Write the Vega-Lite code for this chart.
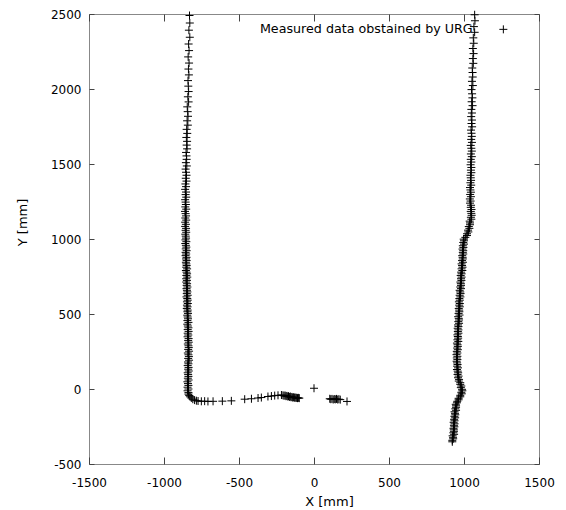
{
  "$schema": "https://vega.github.io/schema/vega-lite/v6.json",
  "width": 450,
  "height": 450,
  "autosize": {"type": "none"},
  "padding": {"left": 89, "top": 14, "right": 27, "bottom": 46},
  "background": "white",
  "config": {
    "font": "DejaVu Sans",
    "view": {"stroke": "#888888", "strokeWidth": 1},
    "axis": {
      "grid": false,
      "domain": false,
      "tickColor": "#444444",
      "labelColor": "black",
      "labelFont": "DejaVu Sans",
      "labelFontSize": 12,
      "labelFlush": false,
      "labelOverlap": false,
      "labelExpr": "'' + datum.value",
      "titleFont": "DejaVu Sans",
      "titleFontSize": 13,
      "titleFontWeight": "normal",
      "titleColor": "black"
    },
    "legend": {
      "orient": "none",
      "legendX": 408,
      "legendY": 9,
      "padding": 0,
      "labelAlign": "right",
      "labelOffset": -37,
      "labelLimit": 0,
      "labelFont": "DejaVu Sans",
      "labelFontSize": 12.7,
      "labelColor": "black",
      "symbolSize": 64,
      "symbolStrokeWidth": 1,
      "symbolStrokeColor": "black",
      "title": null
    }
  },
  "data": {
    "values": [
      {"x": -830, "y": 2490}, {"x": -828, "y": 2440}, {"x": -834, "y": 2392}, {"x": -828, "y": 2345},
      {"x": -836, "y": 2300}, {"x": -833, "y": 2256}, {"x": -839, "y": 2214}, {"x": -833, "y": 2173},
      {"x": -837, "y": 2133}, {"x": -834, "y": 2094}, {"x": -840, "y": 2056}, {"x": -838, "y": 2019},
      {"x": -836, "y": 1983}, {"x": -841, "y": 1948}, {"x": -836, "y": 1914}, {"x": -845, "y": 1881},
      {"x": -842, "y": 1849}, {"x": -840, "y": 1818}, {"x": -846, "y": 1788}, {"x": -841, "y": 1759},
      {"x": -849, "y": 1731}, {"x": -845, "y": 1704}, {"x": -851, "y": 1677}, {"x": -846, "y": 1651},
      {"x": -849, "y": 1626}, {"x": -846, "y": 1601}, {"x": -853, "y": 1577}, {"x": -850, "y": 1554},
      {"x": -849, "y": 1531}, {"x": -854, "y": 1509}, {"x": -848, "y": 1487},
      {"x": -856, "y": 1466}, {"x": -853, "y": 1445}, {"x": -850, "y": 1425}, {"x": -855, "y": 1405},
      {"x": -850, "y": 1386}, {"x": -857, "y": 1367}, {"x": -853, "y": 1349}, {"x": -859, "y": 1331},
      {"x": -853, "y": 1313}, {"x": -856, "y": 1296}, {"x": -852, "y": 1279}, {"x": -859, "y": 1262},
      {"x": -856, "y": 1246}, {"x": -854, "y": 1230}, {"x": -858, "y": 1214}, {"x": -852, "y": 1199},
      {"x": -860, "y": 1184}, {"x": -856, "y": 1169}, {"x": -853, "y": 1154}, {"x": -858, "y": 1140},
      {"x": -852, "y": 1126}, {"x": -859, "y": 1112}, {"x": -854, "y": 1098}, {"x": -859, "y": 1084},
      {"x": -853, "y": 1071}, {"x": -856, "y": 1058}, {"x": -852, "y": 1045}, {"x": -858, "y": 1032},
      {"x": -855, "y": 1019}, {"x": -853, "y": 1006},
      {"x": -857, "y": 994}, {"x": -851, "y": 982}, {"x": -858, "y": 970}, {"x": -854, "y": 958},
      {"x": -851, "y": 946}, {"x": -855, "y": 934}, {"x": -849, "y": 922}, {"x": -856, "y": 911},
      {"x": -852, "y": 900}, {"x": -856, "y": 889}, {"x": -850, "y": 878}, {"x": -853, "y": 867},
      {"x": -849, "y": 856}, {"x": -854, "y": 845}, {"x": -851, "y": 834}, {"x": -849, "y": 823},
      {"x": -852, "y": 812}, {"x": -846, "y": 801}, {"x": -854, "y": 790}, {"x": -850, "y": 779},
      {"x": -846, "y": 768}, {"x": -851, "y": 757}, {"x": -845, "y": 746}, {"x": -852, "y": 735},
      {"x": -847, "y": 724}, {"x": -852, "y": 713}, {"x": -846, "y": 702}, {"x": -849, "y": 691},
      {"x": -844, "y": 680}, {"x": -850, "y": 669}, {"x": -847, "y": 658}, {"x": -844, "y": 647},
      {"x": -848, "y": 636}, {"x": -842, "y": 625}, {"x": -850, "y": 614}, {"x": -845, "y": 603},
      {"x": -842, "y": 592}, {"x": -847, "y": 581}, {"x": -841, "y": 570}, {"x": -847, "y": 559},
      {"x": -843, "y": 548}, {"x": -848, "y": 537}, {"x": -842, "y": 526}, {"x": -844, "y": 515},
      {"x": -840, "y": 504},
      {"x": -845, "y": 492}, {"x": -842, "y": 480}, {"x": -840, "y": 468}, {"x": -844, "y": 456},
      {"x": -837, "y": 444}, {"x": -845, "y": 432}, {"x": -841, "y": 420}, {"x": -837, "y": 408},
      {"x": -842, "y": 396}, {"x": -836, "y": 384}, {"x": -842, "y": 372}, {"x": -838, "y": 360},
      {"x": -843, "y": 348}, {"x": -836, "y": 336}, {"x": -839, "y": 324}, {"x": -835, "y": 312},
      {"x": -841, "y": 300}, {"x": -837, "y": 288}, {"x": -835, "y": 276}, {"x": -839, "y": 264},
      {"x": -833, "y": 252}, {"x": -841, "y": 240}, {"x": -837, "y": 228}, {"x": -834, "y": 216},
      {"x": -839, "y": 204}, {"x": -833, "y": 192}, {"x": -840, "y": 180}, {"x": -837, "y": 168},
      {"x": -842, "y": 156}, {"x": -836, "y": 144}, {"x": -839, "y": 132}, {"x": -835, "y": 120},
      {"x": -842, "y": 108}, {"x": -839, "y": 96}, {"x": -837, "y": 84}, {"x": -841, "y": 72},
      {"x": -836, "y": 60}, {"x": -844, "y": 48}, {"x": -840, "y": 36}, {"x": -837, "y": 24},
      {"x": -843, "y": 12}, {"x": -837, "y": 0}, {"x": -843, "y": -12}, {"x": -837, "y": -24},
      {"x": -837, "y": -34},
      {"x": -832, "y": -44}, {"x": -826, "y": -52}, {"x": -818, "y": -60}, {"x": -808, "y": -68},
      {"x": -796, "y": -74}, {"x": -784, "y": -78}, {"x": -773, "y": -80}, {"x": -751, "y": -82},
      {"x": -729, "y": -81}, {"x": -707, "y": -83}, {"x": -673, "y": -82}, {"x": -611, "y": -81},
      {"x": -551, "y": -79}, {"x": -462, "y": -68}, {"x": -417, "y": -65}, {"x": -373, "y": -60},
      {"x": -351, "y": -57}, {"x": -307, "y": -50}, {"x": -284, "y": -47}, {"x": -262, "y": -44},
      {"x": -240, "y": -42}, {"x": -217, "y": -40},
      {"x": -207, "y": -42}, {"x": -200, "y": -45}, {"x": -193, "y": -43}, {"x": -187, "y": -48},
      {"x": -181, "y": -46}, {"x": -175, "y": -50}, {"x": -170, "y": -48}, {"x": -164, "y": -53},
      {"x": -158, "y": -50}, {"x": -153, "y": -55}, {"x": -147, "y": -53}, {"x": -142, "y": -57},
      {"x": -136, "y": -55}, {"x": -131, "y": -58}, {"x": -126, "y": -56}, {"x": -120, "y": -60},
      {"x": -115, "y": -58}, {"x": -110, "y": -61}, {"x": -104, "y": -59}, {"x": -98, "y": -61},
      {"x": 0, "y": 5},
      {"x": 105, "y": -65}, {"x": 112, "y": -68}, {"x": 120, "y": -66}, {"x": 128, "y": -70},
      {"x": 135, "y": -67}, {"x": 142, "y": -69}, {"x": 150, "y": -66}, {"x": 158, "y": -70},
      {"x": 166, "y": -68}, {"x": 175, "y": -71}, {"x": 220, "y": -83},
      {"x": 1071, "y": 2495}, {"x": 1073, "y": 2455}, {"x": 1066, "y": 2416}, {"x": 1071, "y": 2378},
      {"x": 1062, "y": 2341}, {"x": 1065, "y": 2305}, {"x": 1059, "y": 2270}, {"x": 1064, "y": 2236},
      {"x": 1059, "y": 2203}, {"x": 1062, "y": 2171}, {"x": 1055, "y": 2140}, {"x": 1057, "y": 2110},
      {"x": 1058, "y": 2080}, {"x": 1053, "y": 2051}, {"x": 1059, "y": 2023}, {"x": 1050, "y": 1996},
      {"x": 1054, "y": 1968}, {"x": 1056, "y": 1941}, {"x": 1051, "y": 1915}, {"x": 1057, "y": 1889},
      {"x": 1049, "y": 1864}, {"x": 1053, "y": 1840}, {"x": 1048, "y": 1816}, {"x": 1053, "y": 1793},
      {"x": 1050, "y": 1770}, {"x": 1054, "y": 1748}, {"x": 1047, "y": 1726}, {"x": 1050, "y": 1705},
      {"x": 1052, "y": 1684}, {"x": 1048, "y": 1664}, {"x": 1053, "y": 1644}, {"x": 1045, "y": 1624},
      {"x": 1049, "y": 1605}, {"x": 1052, "y": 1586}, {"x": 1046, "y": 1567}, {"x": 1052, "y": 1549},
      {"x": 1045, "y": 1531}, {"x": 1049, "y": 1513},
      {"x": 1044, "y": 1495}, {"x": 1049, "y": 1477}, {"x": 1046, "y": 1459}, {"x": 1049, "y": 1442},
      {"x": 1043, "y": 1425}, {"x": 1045, "y": 1408}, {"x": 1047, "y": 1391}, {"x": 1043, "y": 1375},
      {"x": 1048, "y": 1359}, {"x": 1040, "y": 1343}, {"x": 1043, "y": 1327}, {"x": 1046, "y": 1312},
      {"x": 1041, "y": 1297}, {"x": 1046, "y": 1282}, {"x": 1039, "y": 1267}, {"x": 1044, "y": 1253},
      {"x": 1040, "y": 1239}, {"x": 1047, "y": 1225}, {"x": 1045, "y": 1211}, {"x": 1050, "y": 1197},
      {"x": 1045, "y": 1184}, {"x": 1049, "y": 1171}, {"x": 1051, "y": 1158}, {"x": 1046, "y": 1145},
      {"x": 1049, "y": 1132}, {"x": 1038, "y": 1119}, {"x": 1040, "y": 1107}, {"x": 1040, "y": 1095},
      {"x": 1032, "y": 1083}, {"x": 1036, "y": 1071}, {"x": 1027, "y": 1059}, {"x": 1029, "y": 1047},
      {"x": 1020, "y": 1035}, {"x": 1020, "y": 1023}, {"x": 1009, "y": 1011},
      {"x": 998, "y": 999}, {"x": 1000, "y": 988}, {"x": 995, "y": 977}, {"x": 1000, "y": 966},
      {"x": 992, "y": 955}, {"x": 996, "y": 944}, {"x": 990, "y": 933}, {"x": 995, "y": 922},
      {"x": 992, "y": 911}, {"x": 995, "y": 900}, {"x": 988, "y": 889}, {"x": 991, "y": 878},
      {"x": 992, "y": 867}, {"x": 987, "y": 856}, {"x": 993, "y": 845}, {"x": 984, "y": 834},
      {"x": 987, "y": 823}, {"x": 990, "y": 812}, {"x": 984, "y": 801}, {"x": 989, "y": 790},
      {"x": 981, "y": 779}, {"x": 984, "y": 768}, {"x": 978, "y": 757}, {"x": 984, "y": 746},
      {"x": 980, "y": 735}, {"x": 983, "y": 724}, {"x": 976, "y": 713}, {"x": 979, "y": 702},
      {"x": 980, "y": 691}, {"x": 975, "y": 680}, {"x": 980, "y": 669}, {"x": 971, "y": 658},
      {"x": 975, "y": 647}, {"x": 977, "y": 636}, {"x": 971, "y": 625}, {"x": 976, "y": 614},
      {"x": 969, "y": 603}, {"x": 972, "y": 592}, {"x": 966, "y": 581}, {"x": 972, "y": 570},
      {"x": 968, "y": 559}, {"x": 972, "y": 548}, {"x": 965, "y": 537}, {"x": 968, "y": 526},
      {"x": 969, "y": 515}, {"x": 964, "y": 504}, {"x": 970, "y": 493}, {"x": 961, "y": 482},
      {"x": 965, "y": 471}, {"x": 967, "y": 460}, {"x": 962, "y": 449}, {"x": 967, "y": 438},
      {"x": 960, "y": 427}, {"x": 963, "y": 416}, {"x": 958, "y": 405}, {"x": 963, "y": 394},
      {"x": 959, "y": 383}, {"x": 963, "y": 372}, {"x": 956, "y": 361}, {"x": 959, "y": 350},
      {"x": 961, "y": 339}, {"x": 956, "y": 328}, {"x": 962, "y": 317}, {"x": 953, "y": 306},
      {"x": 957, "y": 295}, {"x": 959, "y": 284}, {"x": 954, "y": 273}, {"x": 959, "y": 262},
      {"x": 952, "y": 251}, {"x": 956, "y": 240}, {"x": 950, "y": 229}, {"x": 956, "y": 218},
      {"x": 952, "y": 207}, {"x": 956, "y": 196}, {"x": 951, "y": 185}, {"x": 954, "y": 174},
      {"x": 957, "y": 163}, {"x": 954, "y": 152}, {"x": 960, "y": 141}, {"x": 953, "y": 130},
      {"x": 958, "y": 119}, {"x": 961, "y": 108}, {"x": 957, "y": 97}, {"x": 964, "y": 86},
      {"x": 960, "y": 75}, {"x": 967, "y": 64}, {"x": 965, "y": 53}, {"x": 975, "y": 42},
      {"x": 975, "y": 31}, {"x": 982, "y": 20}, {"x": 979, "y": 9},
      {"x": 987, "y": -2}, {"x": 989, "y": -12}, {"x": 982, "y": -22}, {"x": 985, "y": -32},
      {"x": 975, "y": -42}, {"x": 975, "y": -52}, {"x": 964, "y": -62}, {"x": 964, "y": -72},
      {"x": 955, "y": -82}, {"x": 953, "y": -92}, {"x": 945, "y": -102}, {"x": 947, "y": -112},
      {"x": 947, "y": -122}, {"x": 942, "y": -132}, {"x": 947, "y": -142}, {"x": 937, "y": -152},
      {"x": 940, "y": -162}, {"x": 942, "y": -172}, {"x": 936, "y": -182}, {"x": 941, "y": -192},
      {"x": 934, "y": -202}, {"x": 937, "y": -212}, {"x": 931, "y": -222}, {"x": 937, "y": -232},
      {"x": 933, "y": -242}, {"x": 936, "y": -252}, {"x": 930, "y": -262}, {"x": 932, "y": -272},
      {"x": 933, "y": -282}, {"x": 929, "y": -292}, {"x": 934, "y": -302}, {"x": 924, "y": -312},
      {"x": 927, "y": -322}, {"x": 928, "y": -332}, {"x": 922, "y": -342}, {"x": 922, "y": -352}
    ]
  },
  "resolve": {"axis": {"x": "independent", "y": "independent"}},
  "layer": [
    {
      "mark": {"type": "point", "filled": false, "color": "black", "strokeWidth": 1, "opacity": 1, "size": 64},
      "encoding": {
        "x": {
          "field": "x", "type": "quantitative",
          "scale": {"domain": [-1500, 1500], "nice": false, "zero": false},
          "axis": {
            "orient": "bottom",
            "values": [-1500, -1000, -500, 0, 500, 1000, 1500],
            "tickSize": -7,
            "labelPadding": 20,
            "title": "X [mm]",
            "titleX": 240,
            "titleY": 37,
            "titleBaseline": "middle"
          }
        },
        "y": {
          "field": "y", "type": "quantitative",
          "scale": {"domain": [-500, 2500], "nice": false, "zero": false},
          "axis": {
            "orient": "left",
            "values": [-500, 0, 500, 1000, 1500, 2000, 2500],
            "tickSize": -5,
            "labelPadding": 13,
            "title": "Y [mm]",
            "titleX": -67,
            "titleY": 208,
            "titleBaseline": "middle"
          }
        },
        "shape": {
          "datum": "Measured data obstained by URG",
          "scale": {"range": ["M-1,0H1M0,-1V1"]}
        }
      }
    },
    {
      "mark": {"type": "point", "opacity": 0},
      "encoding": {
        "x": {
          "field": "x", "type": "quantitative",
          "axis": {
            "orient": "top",
            "values": [-1500, -1000, -500, 0, 500, 1000, 1500],
            "tickSize": -7,
            "labels": false,
            "title": null
          }
        },
        "y": {
          "field": "y", "type": "quantitative",
          "axis": {
            "orient": "right",
            "values": [-500, 0, 500, 1000, 1500, 2000, 2500],
            "tickSize": -5,
            "labels": false,
            "title": null
          }
        }
      }
    }
  ]
}
